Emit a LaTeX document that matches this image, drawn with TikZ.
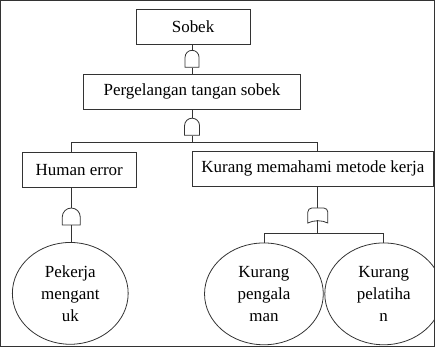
\documentclass[tikz,border=0pt]{standalone}
\usepackage{fontspec}
\setmainfont{Liberation Serif}
\usepackage{tikz}
\usetikzlibrary{calc, positioning, shapes.geometric}

\begin{document}
\begin{tikzpicture}[
    x=1pt, y=1pt,
    font=\fontsize{17}{22}\selectfont,
    every path/.style={draw=black!80, line width=0.8pt},
    eventbox/.style={rectangle, draw=black!80, line width=0.8pt, minimum height=35pt, inner sep=0pt},
    basicevent/.style={ellipse, draw=black!80, line width=0.8pt, align=center, inner sep=0pt, minimum width=116pt, minimum height=102pt},
    gatebox/.style={rectangle, draw=none, inner sep=0pt, minimum width=#1, minimum height=17pt},
    gatebox/.default=14pt,
    andgate/.pic={
        \draw (-#1,-8.5) -- (-#1,8.5-#1) arc (180:0:#1) -- (#1,-8.5) -- cycle;
    },
    orgate/.pic={
        \draw (-10,-7.5) -- (-10,3.5) to[out=90,in=180] (-6,7.5) -- (6,7.5)
            to[out=0,in=90] (10,3.5) -- (10,-7.5)
            .. controls (4,-4.5) and (-4,-4.5) .. (-10,-7.5) -- cycle;
    },
    ]
    \useasboundingbox (0,0) rectangle (435,-347);

    %Nodes
    \node[eventbox, minimum width=114pt]      (sobek)  at (193,-26.5)  {Sobek};
    \node[gatebox]                             (g1)     at (192,-58.5)  {};
    \node[eventbox, minimum width=218pt]      (perg)   at (192,-91.5)  {Pergelangan tangan sobek};
    \node[gatebox]                             (g2)     at (192,-126.5) {};
    \coordinate                                (split1) at (192,-142);
    \node[eventbox, minimum width=114pt]      (human)  at (79,-169.5)  {Human error};
    \node[eventbox, minimum width=241pt]      (kmk)    at (313,-168.5) {Kurang memahami metode kerja};
    \node[gatebox=18pt]                        (g3)     at (71,-216.5)  {};
    \node[gatebox=20pt, minimum height=15pt]   (g4)     at (318,-215.5) {};
    \coordinate                                (split2) at (318,-233);
    \node[basicevent]                          (tidur)  at (70,-293.5)  {Pekerja\\mengant\\uk};
    \node[basicevent, minimum width=119pt]     (alami)  at (264,-294)   {Kurang\\pengala\\man};
    \node[basicevent, minimum width=118pt]     (latih)  at (384,-294)   {Kurang\\pelatiha\\n};

    %Gates
    \pic at (g1) {andgate=7};
    \pic at (g2) {andgate=7.5};
    \pic at (g3) {andgate=9};
    \pic at (g4) {orgate};

    %Lines
    \draw (sobek.south -| g1) -- (g1.north);
    \draw (g1.south) -- (perg.north -| g1);
    \draw (perg.south -| g2) -- (g2.north);
    \draw (g2.south) -- (split1);
    \draw (human.north -| g3) -- (g3 |- split1) -- (g4 |- split1) -- (kmk.north -| g4);
    \draw (human.south -| g3) -- (g3.north);
    \draw (g3.south) -- (tidur.north -| g3);
    \draw (kmk.south -| g4) -- (g4.north);
    \draw ([yshift=3pt]g4.south) -- (split2);
    \draw (alami.north) -- (alami |- split2) -- (latih |- split2) -- (latih.north);
\end{tikzpicture}
\end{document}
